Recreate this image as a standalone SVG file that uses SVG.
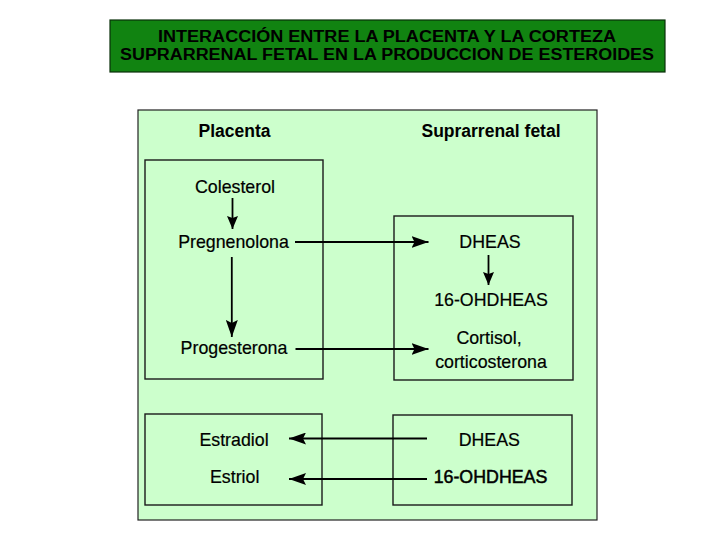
<svg xmlns="http://www.w3.org/2000/svg" width="720" height="540" viewBox="0 0 720 540">
<style>
.title{font-family:"Liberation Sans",Arial,sans-serif;font-weight:bold;font-size:16px;fill:#000;text-anchor:middle}
.hdr{font-family:"Liberation Sans",Arial,sans-serif;font-weight:bold;font-size:17.5px;fill:#000;text-anchor:middle}
.lbl{font-family:"Liberation Sans",Arial,sans-serif;font-size:17.8px;fill:#000;text-anchor:middle;stroke:#000;stroke-width:0.2}
.box{fill:none;stroke:#1a1a1a;stroke-width:1.4}
.conn{stroke:#000;stroke-width:1.8;fill:none}
</style>
<defs>
<marker id="ah" viewBox="0 0 17 12" refX="17" refY="6" markerWidth="17" markerHeight="12" markerUnits="userSpaceOnUse" orient="auto">
<path d="M0,0 L17,6 L0,12 L3,6 Z" fill="#000"/>
</marker>
<marker id="ahs" viewBox="0 0 13 11" refX="13" refY="5.5" markerWidth="13" markerHeight="11" markerUnits="userSpaceOnUse" orient="auto">
<path d="M0,0 L13,5.5 L0,11 L2,5.5 Z" fill="#000"/>
</marker>
</defs>
<rect width="720" height="540" fill="#fff"/>
<g id="title">
<rect x="110" y="20" width="555" height="52" fill="#118311" stroke="#0a300a" stroke-width="1.2"/>
<text class="title" x="387" y="41.6" textLength="458" lengthAdjust="spacingAndGlyphs">INTERACCIÓN ENTRE LA PLACENTA Y LA CORTEZA</text>
<text class="title" x="387" y="59.6" textLength="534" lengthAdjust="spacingAndGlyphs">SUPRARRENAL FETAL EN LA PRODUCCION DE ESTEROIDES</text>
</g>
<g id="panel">
<rect x="138" y="110" width="459" height="410" fill="#ccffcc" stroke="#222" stroke-width="1.2"/>
<text class="hdr" x="234.5" y="136.5">Placenta</text>
<text class="hdr" x="491" y="136.7">Suprarrenal fetal</text>
</g>
<g id="placenta-upper">
<rect class="box" x="145" y="160" width="178" height="219"/>
<text class="lbl" x="235" y="193">Colesterol</text>
<text class="lbl" x="233.5" y="247.7">Pregnenolona</text>
<text class="lbl" x="234" y="354.3">Progesterona</text>
</g>
<g id="suprarrenal-upper">
<rect class="box" x="394" y="216" width="179" height="164"/>
<text class="lbl" x="490" y="248">DHEAS</text>
<text class="lbl" x="491" y="306">16-OHDHEAS</text>
<text class="lbl" x="489" y="344">Cortisol,</text>
<text class="lbl" x="491" y="368.3">corticosterona</text>
</g>
<g id="placenta-lower">
<rect class="box" x="145" y="414" width="177" height="91"/>
<text class="lbl" x="234" y="445.7">Estradiol</text>
<text class="lbl" x="234.7" y="483.3">Estriol</text>
</g>
<g id="suprarrenal-lower">
<rect class="box" x="393" y="415" width="179" height="90"/>
<text class="lbl" x="489.3" y="445.7">DHEAS</text>
<text class="lbl" x="490.5" y="483.3" style="stroke-width:0.5">16-OHDHEAS</text>
</g>
<g id="connectors">
<line class="conn" x1="232.5" y1="198" x2="232.5" y2="229" marker-end="url(#ahs)"/>
<line class="conn" x1="231.8" y1="257" x2="231.8" y2="337" marker-end="url(#ah)"/>
<line class="conn" x1="488.5" y1="255" x2="488.5" y2="285" marker-end="url(#ahs)"/>
<line class="conn" x1="295" y1="242" x2="428.5" y2="242" marker-end="url(#ah)"/>
<line class="conn" x1="295.5" y1="349" x2="428.5" y2="349" marker-end="url(#ah)"/>
<line class="conn" x1="427" y1="438.5" x2="289" y2="438.5" marker-end="url(#ah)"/>
<line class="conn" x1="427" y1="479" x2="289" y2="479" marker-end="url(#ah)"/>
</g>
</svg>
